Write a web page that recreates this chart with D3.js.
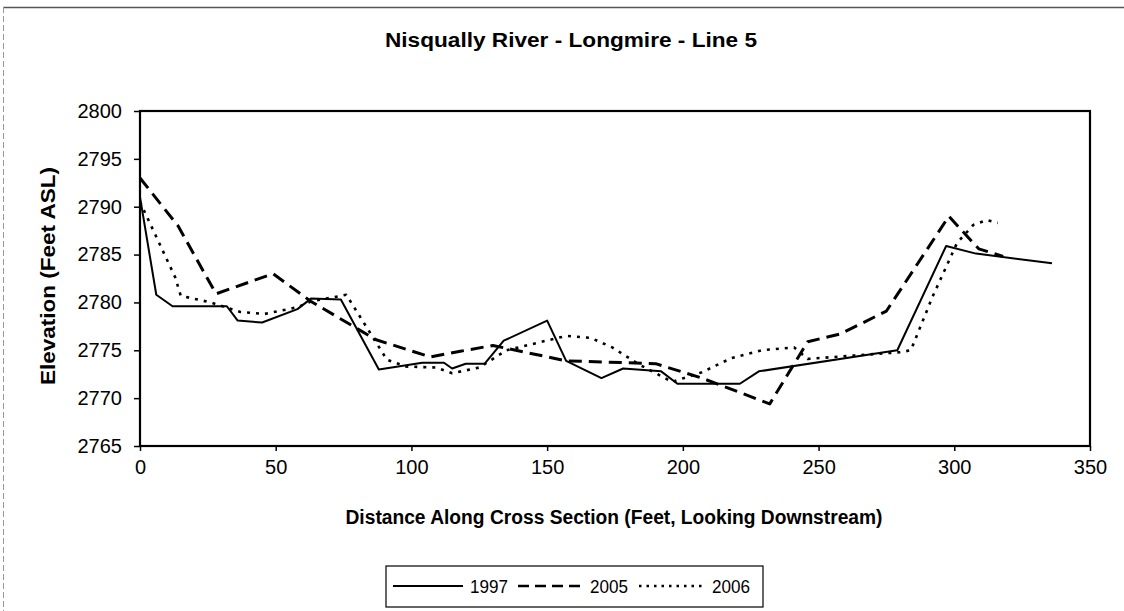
<!DOCTYPE html>
<html><head><meta charset="utf-8">
<script src="https://cdn.jsdelivr.net/npm/d3@7/dist/d3.min.js"></script>
<style>body{margin:0;background:#fff}svg{display:block}text{font-family:"Liberation Sans",Arial,sans-serif;fill:#000}</style>
</head><body><div id="chart"></div>
<script>
const title = "Nisqually River - Longmire - Line 5";
const xTitle = "Distance Along Cross Section (Feet, Looking Downstream)";
const yTitle = "Elevation (Feet ASL)";
const xTicks = [0,50,100,150,200,250,300,350];
const yTicks = [2765,2770,2775,2780,2785,2790,2795,2800];
const seriesNames = ["1997","2005","2006"];

const dist1997 = [0,6,12,32,36,45,58,63,74,88,104,112,115,120,127,134,150,157,170,178,192,198,221,228,279,297,308,336];
const elev1997 = [2791,2780.8,2779.6,2779.6,2778.1,2777.9,2779.3,2780.4,2780.3,2773,2773.7,2773.7,2773.1,2773.6,2773.6,2776,2778.1,2773.9,2772.1,2773.1,2772.8,2771.5,2771.5,2772.8,2775,2785.9,2785.1,2784.1];

const dist2005 = [0,14,28,49,63,87,107,118,130,157,190,207,232,246,258,275,298,309,318];
const elev2005 = [2793,2788,2780.9,2783,2780.1,2776.1,2774.3,2774.9,2775.5,2773.9,2773.6,2772.1,2769.4,2775.9,2776.7,2779.1,2789,2785.6,2784.8];

const dist2006 = [0,13,15,26,37,46,58,63,76,91,98,109,115,125,135,157,166,174,184,196,207,218,229,241,246,280,284,292,301,307,312,316];
const elev2006 = [2790.5,2782.6,2780.7,2780,2779,2778.8,2779.5,2780.1,2780.8,2774,2773.3,2773.2,2772.6,2773.2,2775,2776.5,2776.3,2775.3,2773.5,2771.7,2772.7,2774.2,2775,2775.3,2774.1,2774.8,2775,2780.6,2786.2,2788.1,2788.6,2788.3];

const W = 1124, H = 611;
const m = {left:140, right:1090, top:111, bottom:446};
const svg = d3.select("#chart").append("svg").attr("width",W).attr("height",H);

// outer chart border (faint)
svg.append("line").attr("x1",3).attr("x2",W).attr("y1",7.5).attr("y2",7.5).attr("stroke","#555").attr("stroke-width",1.5);
svg.append("line").attr("x1",3.5).attr("x2",3.5).attr("y1",7).attr("y2",H).attr("stroke","#999").attr("stroke-width",1).attr("stroke-dasharray","6,3");

const x = d3.scaleLinear().domain([0,350]).range([m.left,m.right]);
const y = d3.scaleLinear().domain([2765,2800]).range([m.bottom,m.top]);

svg.append("text").attr("x",571).attr("y",47).attr("text-anchor","middle")
  .style("font-size","20px").style("font-weight","bold")
  .attr("textLength",372).attr("lengthAdjust","spacingAndGlyphs").text(title);

// axes
const xAxis = svg.append("g").attr("transform",`translate(0,${m.bottom})`)
  .call(d3.axisBottom(x).tickValues(xTicks).tickSize(5).tickPadding(9).tickFormat(d3.format("d")));
const yAxis = svg.append("g").attr("transform",`translate(${m.left},0)`)
  .call(d3.axisLeft(y).tickValues(yTicks).tickSize(6).tickPadding(12).tickFormat(d3.format("d")));
[xAxis,yAxis].forEach(a=>{
  a.select(".domain").remove();
  a.selectAll("line").attr("stroke","#000").attr("stroke-width",1.5);
  a.selectAll("text").style("font-size","20px").style("font-family","'Liberation Sans',Arial,sans-serif");
});

// plot frame
svg.append("rect").attr("x",m.left).attr("y",m.top).attr("width",m.right-m.left).attr("height",m.bottom-m.top)
  .attr("fill","none").attr("stroke","#000").attr("stroke-width",2.2);

const line = d3.line().x(d=>x(d[0])).y(d=>y(d[1]));
const zip = (a,b)=>a.map((v,i)=>[v,b[i]]);
const styles = [
  {w:2, dash:null},
  {w:3, dash:"13,7"},
  {w:2.6, dash:"3,6"}
];
const data = [zip(dist1997,elev1997), zip(dist2005,elev2005), zip(dist2006,elev2006)];
data.forEach((d,i)=>{
  svg.append("path").datum(d).attr("d",line).attr("fill","none").attr("stroke","#000")
    .attr("stroke-width",styles[i].w).attr("stroke-dasharray",styles[i].dash).attr("stroke-linejoin","round");
});

// axis titles
svg.append("text").attr("x",614).attr("y",524).attr("text-anchor","middle")
  .style("font-size","20px").style("font-weight","bold")
  .attr("textLength",537).attr("lengthAdjust","spacingAndGlyphs").text(xTitle);
svg.append("text").attr("transform","translate(55,276) rotate(-90)").attr("text-anchor","middle")
  .style("font-size","20px").style("font-weight","bold")
  .attr("textLength",218).attr("lengthAdjust","spacingAndGlyphs").text(yTitle);

// legend
const lg = svg.append("g");
lg.append("rect").attr("x",386).attr("y",566).attr("width",377).attr("height",41)
  .attr("fill","#fff").attr("stroke","#000").attr("stroke-width",1.2);
const legItems = [
  {x1:393,x2:463,tx:470},
  {x1:518,x2:585,tx:590},
  {x1:639,x2:705,tx:712}
];
const legDash = [null,"11,6","2.5,5"];
seriesNames.forEach((n,i)=>{
  lg.append("line").attr("x1",legItems[i].x1).attr("x2",legItems[i].x2).attr("y1",586).attr("y2",586)
    .attr("stroke","#000").attr("stroke-width",i===0?2:2.4).attr("stroke-dasharray",legDash[i]);
  lg.append("text").attr("x",legItems[i].tx).attr("y",593).style("font-size","19px")
    .attr("textLength",38).attr("lengthAdjust","spacingAndGlyphs").text(n);
});
</script></body></html>
